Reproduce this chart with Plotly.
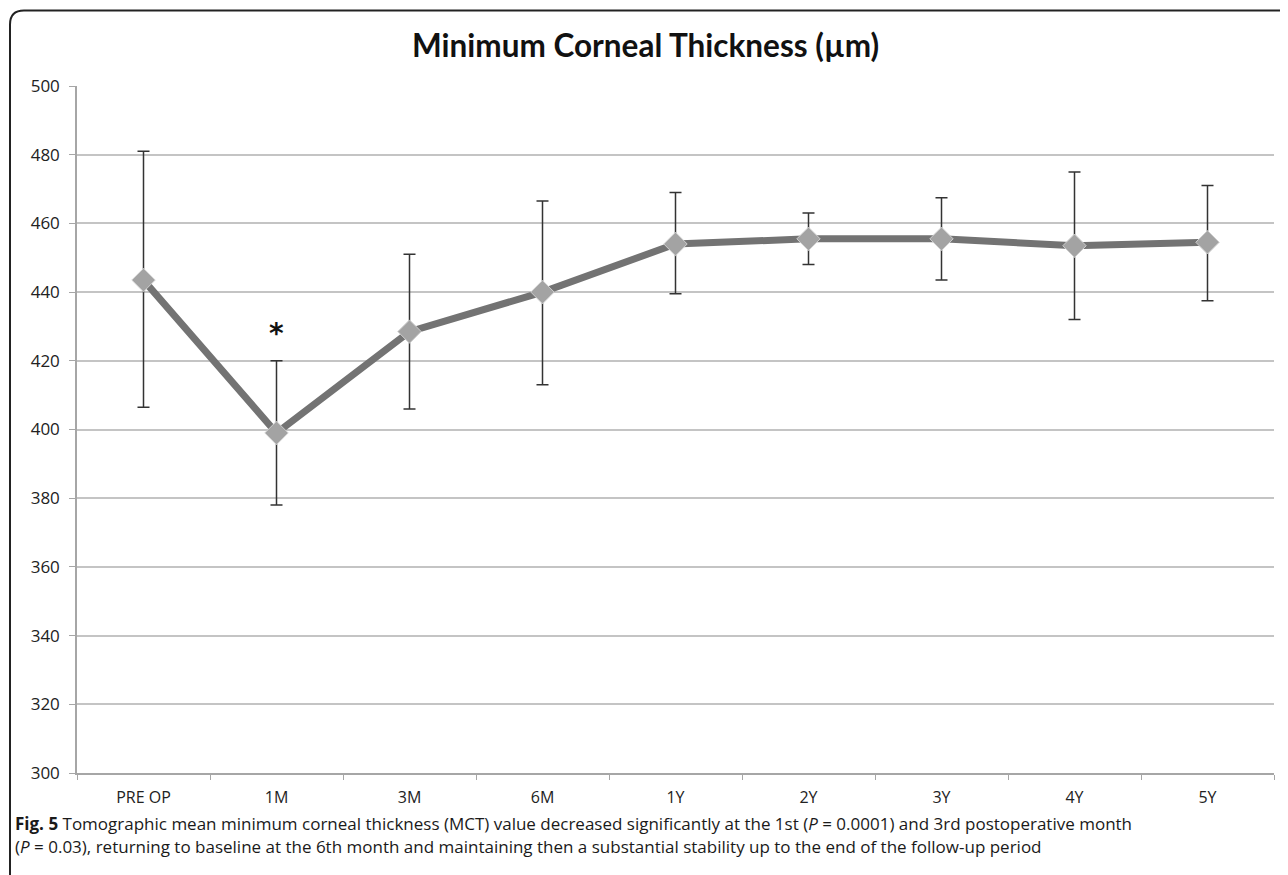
import plotly.graph_objects as go

###############################################################################
# Data

periods = ["PRE OP", "1M", "3M", "6M", "1Y", "2Y", "3Y", "4Y", "5Y"]
mct_mean = [443.5, 399, 428.5, 440, 454, 455.5, 455.5, 453.5, 454.5]
err_upper = [37.5, 21, 22.5, 26.5, 15, 7.5, 12, 21.5, 16.5]
err_lower = [37, 21, 22.5, 27, 14.5, 7.5, 12, 21.5, 17]

y_ticks = [300, 320, 340, 360, 380, 400, 420, 440, 460, 480, 500]

###############################################################################
# Figure

# the page body adds an 8px offset, so the figure is sized to fill the rest
OFF = 8
W, H = 1288 - OFF, 875 - OFF
L, R, T, B = 77 - OFF, W - (1274 - OFF), 85.5 - OFF, H - (773 - OFF)

def px_x(px):
    return (px - OFF - L) / (W - L - R)

def px_y(py):
    return (H - B - (py - OFF)) / (H - T - B)

fig = go.Figure()

fig.add_trace(
    go.Scatter(
        x=periods,
        y=mct_mean,
        mode="lines+markers",
        showlegend=False,
        line=dict(color="#737373", width=7),
        marker=dict(
            symbol="diamond",
            size=18,
            color="#a3a3a3",
            line=dict(color="#cfcfcf", width=1)
        ),
        error_y=dict(
            type="data",
            symmetric=False,
            array=err_upper,
            arrayminus=err_lower,
            color="#333333",
            thickness=1.5,
            width=6
        )
    )
)

fig.add_annotation(
    x="1M", y=428, text="<b>*</b>", showarrow=False,
    font=dict(family="DejaVu Sans", size=28, color="#111111")
)

# rounded frame, only top and left edges fall inside the page
x0, y0, r = px_x(10), px_y(10), 14
rx, ry = r / (W - L - R), r / (H - T - B)
x_far, y_far = px_x(1330), px_y(910)
fig.add_shape(
    type="path", xref="paper", yref="paper",
    path=(f"M {x0},{y_far} L {x0},{y0 - ry} "
          f"Q {x0},{y0} {x0 + rx},{y0} L {x_far},{y0}"),
    line=dict(color="#222222", width=2)
)

fig.add_annotation(
    xref="paper", yref="paper", x=px_x(645), y=px_y(44),
    text="<b>Minimum Corneal Thickness (µm)</b>", showarrow=False,
    font=dict(family="Lato", size=31.5, color="#111111"),
    xanchor="center", yanchor="middle"
)

caption_lines = [
    ("<b>Fig. 5</b> Tomographic mean minimum corneal thickness (MCT) value decreased "
     "significantly at the 1st (<i>P</i> = 0.0001) and 3rd postoperative month", 824),
    ("(<i>P</i> = 0.03), returning to baseline at the 6th month and maintaining "
     "then a substantial stability up to the end of the follow-up period", 847),
]
for text, ypx in caption_lines:
    fig.add_annotation(
        xref="paper", yref="paper", x=px_x(13), y=px_y(ypx),
        text=text, showarrow=False, align="left",
        xanchor="left", yanchor="middle",
        font=dict(family="Open Sans", size=17, color="#1a1a1a")
    )

fig.update_layout(
    width=W, height=H,
    autosize=False,
    margin=dict(l=L, r=R, t=T, b=B),
    plot_bgcolor="white",
    paper_bgcolor="white",
    font=dict(family="Open Sans", color="#333333"),
    xaxis=dict(
        type="category",
        showgrid=False,
        showline=True,
        linecolor="#a6a6a6",
        linewidth=1.5,
        ticks="outside",
        tickson="boundaries",
        ticklen=5,
        tickcolor="#a6a6a6",
        ticklabelstandoff=9,
        tickfont=dict(size=16, color="#222222"),
        range=[-0.5, 8.5]
    ),
    yaxis=dict(
        range=[300, 500],
        tickvals=y_ticks,
        showgrid=True,
        gridcolor="#c4c4c4",
        gridwidth=1.5,
        showline=True,
        linecolor="#a6a6a6",
        linewidth=1.5,
        ticks="outside",
        ticklen=6,
        tickcolor="#a6a6a6",
        ticklabelstandoff=6,
        tickfont=dict(size=17, color="#222222"),
        zeroline=False
    )
)

fig.write_html("out.html")
